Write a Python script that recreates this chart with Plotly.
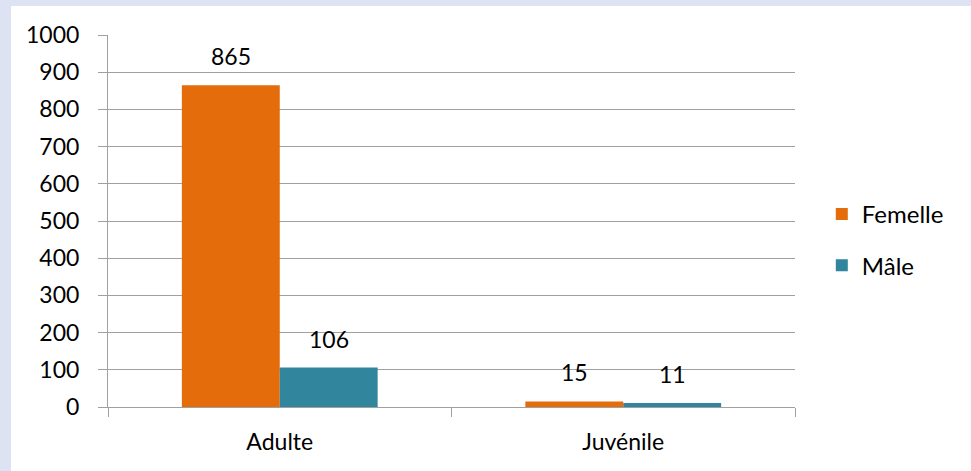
import plotly.graph_objects as go

categories = ["Adulte", "Juvénile"]
femelle = [865, 15]
male = [106, 11]
series_names = ["Femelle", "Mâle"]
colors = ["#E46C0A", "#31859C"]
y_ticks = [0, 100, 200, 300, 400, 500, 600, 700, 800, 900, 1000]

FONT = "Lato"
FS = 23
GRID = "#A0A0A0"

fig = go.Figure()
for i, (name, vals) in enumerate(zip(series_names, [femelle, male])):
    fig.add_trace(go.Bar(
        x=categories, y=vals, name=name, marker=dict(color=colors[i], line=dict(width=0)),
        legendgroup=name,
    ))

annotations = []
for i, vals in enumerate([femelle, male]):
    shift = -49 if i == 0 else 49
    for c, v in zip(categories, vals):
        annotations.append(dict(
            x=c, y=v, text=str(v), showarrow=False, xshift=shift, yshift=13,
            yanchor="bottom", font=dict(family=FONT, size=FS, color="#000"),
        ))

fig.update_layout(
    width=971, height=471,
    margin=dict(l=108, r=176, t=35, b=64, pad=0),
    paper_bgcolor="#DEE3F4",
    plot_bgcolor="white",
    barmode="group",
    bargap=0.43,
    bargroupgap=0,
    font=dict(family=FONT, size=FS, color="#000"),
    annotations=annotations,
    showlegend=True,
    legend=dict(
        x=1.039, y=0.449, xanchor="left", yanchor="middle",
        font=dict(family=FONT, size=24, color="#000"),
        bgcolor="rgba(0,0,0,0)", tracegroupgap=17, traceorder="grouped",
    ),
    shapes=[dict(
        type="rect", xref="paper", yref="paper", layer="below",
        x0=(11 - 108) / 687, x1=(975 - 108) / 687,
        y0=(407 - 475) / 372, y1=(407 - 6) / 372,
        fillcolor="white", line=dict(width=0),
    )],
)

fig.update_xaxes(
    showline=True, linecolor=GRID, linewidth=1,
    ticks="outside", ticklen=9, tickcolor=GRID, tickwidth=1,
    tickson="boundaries", showgrid=False, ticklabelstandoff=14,
)
fig.update_yaxes(
    range=[0, 1000], tickvals=y_ticks, showgrid=True, gridcolor=GRID, gridwidth=1,
    showline=True, linecolor=GRID, linewidth=1, zeroline=False,
    ticks="outside", ticklen=9, tickcolor=GRID, tickwidth=1, ticklabelstandoff=14,
)

fig.write_html("out.html", config={"displayModeBar": False},
               post_script="document.body.style.margin='0';")
